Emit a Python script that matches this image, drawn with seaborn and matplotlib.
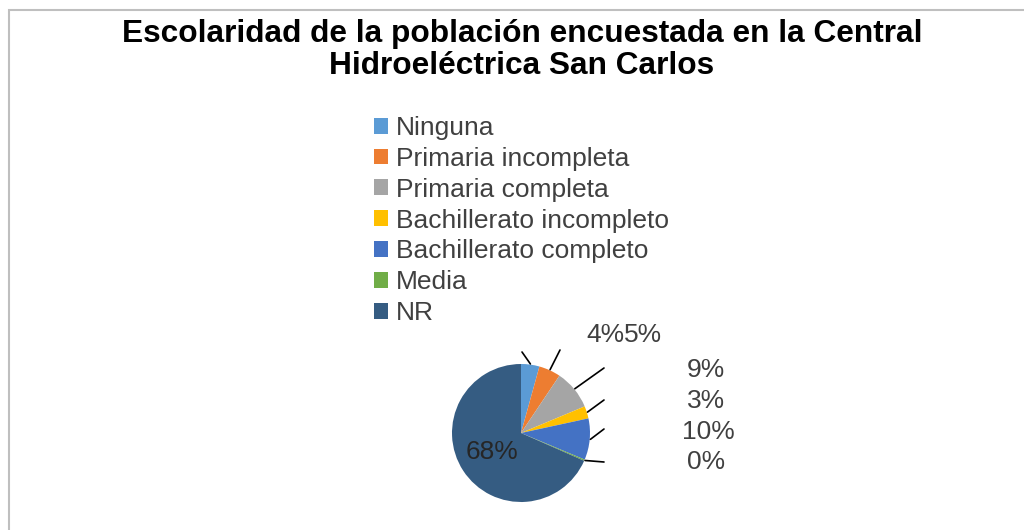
import matplotlib
matplotlib.use("Agg")
import matplotlib.pyplot as plt
import seaborn as sns
import numpy as np
from matplotlib.patches import Rectangle

# data
categories = ["Ninguna", "Primaria incompleta", "Primaria completa",
              "Bachillerato incompleto", "Bachillerato completo", "Media", "NR"]
percentages = [4.3, 5.1, 9.3, 2.9, 9.7, 0.3, 68.4]
colors = ["#5B9BD5", "#ED7D31", "#A5A5A5", "#FFC000", "#4472C4", "#70AD47", "#355C82"]
title = "Escolaridad de la población encuestada en la Central\nHidroeléctrica San Carlos"

sns.set_style("white")
plt.rcParams["font.family"] = ["Liberation Sans", "DejaVu Sans"]

W, H = 1024, 530
fig = plt.figure(figsize=(W / 100, H / 100), dpi=100)
ax = fig.add_axes([0, 0, 1, 1])

# chart area border (only top and left visible)
fig.patches.append(Rectangle((8.5 / W, -0.1), 1.2, 1 - 9.5 / H + 0.1, transform=fig.transFigure,
                             fill=False, edgecolor="#BFBFBF", linewidth=1.5))

# pie placement (pixels, y measured from top)
cx, cy, r = 521, H - 433, 69
wedges, _ = ax.pie(percentages, colors=colors, startangle=90, counterclock=False,
                   center=(cx, cy), radius=r, frame=True,
                   wedgeprops=dict(linewidth=0))
ax.set_xlim(0, W)
ax.set_ylim(0, H)
ax.set_aspect("equal")
ax.axis("off")

# data labels with leader lines
label_pos = [(605, 335), (643, 335), (706, 370), (706, 401), (708, 432), (706, 462)]
line_end = [(522, 352), (560, 350), (604, 368), (604, 400), (604, 429), (604, 462)]
for w, pct, (lx, ly), (ex, ey) in zip(wedges[:-1], percentages[:-1], label_pos, line_end):
    ang = np.deg2rad((w.theta1 + w.theta2) / 2)
    sx, sy = cx + r * 1.01 * np.cos(ang), cy + r * 1.01 * np.sin(ang)
    ax.plot([sx, ex], [sy, H - ey], color="#000000", linewidth=1.2)
    ax.text(lx, H - ly, f"{round(pct):.0f}%", ha="center", va="center",
            fontsize=19, color="#404040")

ax.text(492, H - 452, f"{round(percentages[-1]):.0f}%", ha="center", va="center",
        fontsize=19, color="#262626")

fig.text(522 / W, 1 - 50 / H, title, ha="center", va="center", fontsize=22.8,
         fontweight="bold", color="#000000", linespacing=1.12)

ax.legend(wedges, categories, loc="upper left", bbox_to_anchor=(373.5 / W, 1 - 116 / H),
          bbox_transform=fig.transFigure, frameon=False, fontsize=19,
          handlelength=0.55, handleheight=0.55, handletextpad=0.3,
          labelspacing=0.26, borderpad=0, borderaxespad=0,
          labelcolor="#404040")

fig.savefig("out.png", dpi=100)
